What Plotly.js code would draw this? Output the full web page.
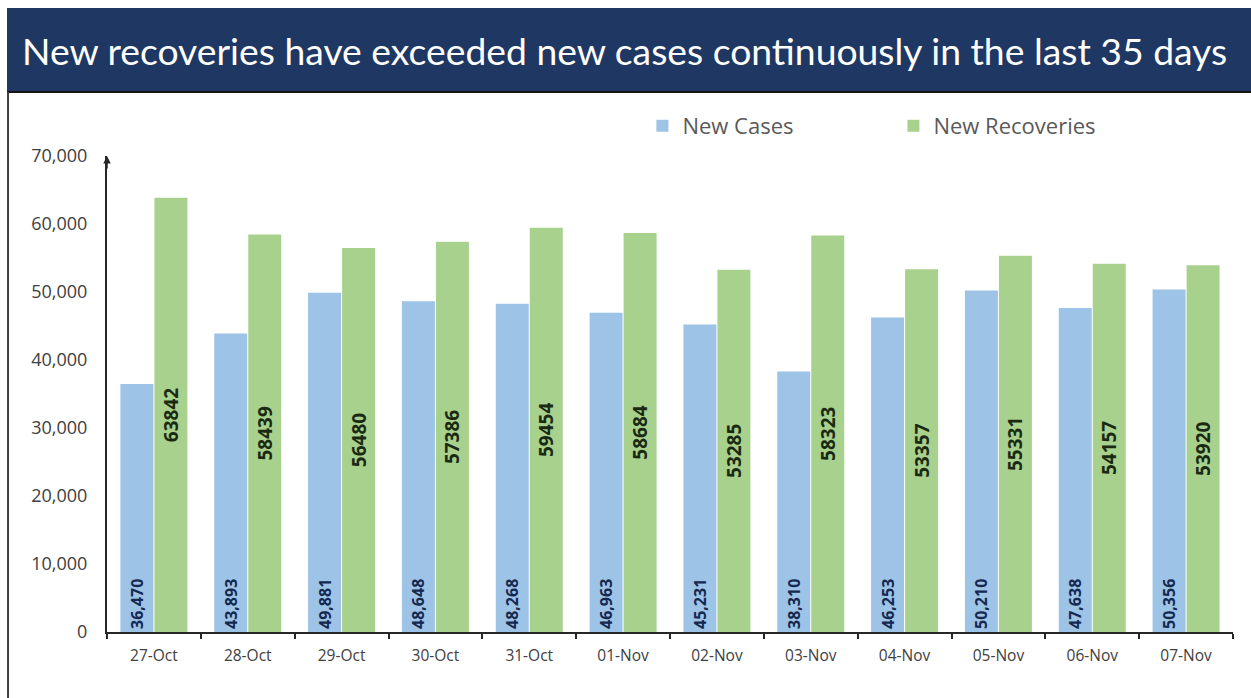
<!DOCTYPE html>
<html>
<head>
<meta charset="utf-8">
<script src="https://cdn.plot.ly/plotly-3.0.1.min.js"></script>
<style>
  html, body { margin: 0; padding: 0; background: #ffffff; }
  #chart { width: 1251px; height: 698px; }
</style>
</head>
<body>
<div id="chart"></div>
<script>
const dates = ["27-Oct", "28-Oct", "29-Oct", "30-Oct", "31-Oct", "01-Nov", "02-Nov", "03-Nov", "04-Nov", "05-Nov", "06-Nov", "07-Nov"];
const newCases = [36470, 43893, 49881, 48648, 48268, 46963, 45231, 38310, 46253, 50210, 47638, 50356];
const newRecoveries = [63842, 58439, 56480, 57386, 59454, 58684, 53285, 58323, 53357, 55331, 54157, 53920];
const yTickValues = [0, 10000, 20000, 30000, 40000, 50000, 60000, 70000];
const titleText = "New recoveries have exceeded new cases continuously in the last 35 days";

const traces = [
  {
    type: "bar",
    name: "New Cases",
    x: dates,
    y: newCases,
    marker: { color: "#9DC3E6" },
    text: newCases.map(v => v.toLocaleString("en-US")),
    texttemplate: "<b>%{text}</b>",
    textposition: "inside",
    insidetextanchor: "start",
    textangle: -90,
    textfont: { family: "Open Sans, sans-serif", size: 16, color: "#142850" },
    hoverinfo: "x+y"
  },
  {
    type: "bar",
    name: "New Recoveries",
    x: dates,
    y: newRecoveries,
    marker: { color: "#A9D18E" },
    text: newRecoveries.map(v => String(v)),
    texttemplate: "<b>%{text}</b>",
    textposition: "inside",
    insidetextanchor: "middle",
    textangle: -90,
    textfont: { family: "Open Sans, sans-serif", size: 19, color: "#1A2A12" },
    hoverinfo: "x+y"
  }
];

const layout = {
  width: 1251,
  height: 698,
  margin: { l: 107, r: 18, t: 156, b: 66, pad: 0 },
  paper_bgcolor: "#ffffff",
  plot_bgcolor: "#ffffff",
  barmode: "group",
  bargap: 0.275,
  bargroupgap: 0.03,
  showlegend: true,
  legend: {
    orientation: "h",
    x: 0.4755,
    xanchor: "left",
    y: 1.063,
    yanchor: "middle",
    font: { family: "Open Sans, sans-serif", size: 22, color: "#595959" },
    entrywidth: 206,
    entrywidthmode: "pixels",
    itemwidth: 30,
    bgcolor: "rgba(0,0,0,0)"
  },
  xaxis: {
    type: "category",
    showline: true,
    linecolor: "#262626",
    linewidth: 2,
    ticks: "outside",
    tickson: "boundaries",
    ticklen: 5,
    tickwidth: 2,
    tickcolor: "#262626",
    ticklabelstandoff: 8,
    showgrid: false,
    zeroline: false,
    tickfont: { family: "Open Sans, sans-serif", size: 15.5, color: "#404040" },
    fixedrange: true
  },
  yaxis: {
    range: [0, 70000],
    tickvals: yTickValues,
    tickformat: ",",
    showline: true,
    linecolor: "#262626",
    linewidth: 2,
    ticks: "outside",
    ticklen: 14,
    tickcolor: "rgba(0,0,0,0)",
    showgrid: false,
    zeroline: false,
    tickfont: { family: "Open Sans, sans-serif", size: 18, color: "#404040" },
    fixedrange: true
  },
  shapes: [
    {
      type: "rect", xref: "paper", yref: "paper",
      x0: -0.0888, x1: 1.02, y0: 1.1345, y1: 1.311,
      fillcolor: "#1F3763", line: { width: 0 }, layer: "above"
    },
    {
      type: "line", xref: "paper", yref: "paper",
      x0: -0.0888, x1: 1.02, y0: 1.1345, y1: 1.1345,
      line: { color: "#151515", width: 2 }
    },
    {
      type: "line", xref: "paper", yref: "paper",
      x0: -0.0879, x1: -0.0879, y0: 1.1345, y1: -0.15,
      line: { color: "#404040", width: 2 }
    }
  ],
  annotations: [
    {
      text: titleText,
      xref: "paper", yref: "paper",
      x: -0.0773, xanchor: "left",
      y: 1.222, yanchor: "middle",
      showarrow: false,
      font: { family: "Lato, sans-serif", size: 37.3, color: "#ffffff" }
    },
    {
      text: "",
      xref: "paper", yref: "paper",
      x: 0, y: 1.0,
      ax: 0, ay: 14,
      showarrow: true,
      arrowhead: 2,
      arrowsize: 1,
      arrowwidth: 1.5,
      arrowcolor: "#262626"
    }
  ]
};

Plotly.newPlot("chart", traces, layout, { displayModeBar: false, staticPlot: true });
</script>
</body>
</html>
